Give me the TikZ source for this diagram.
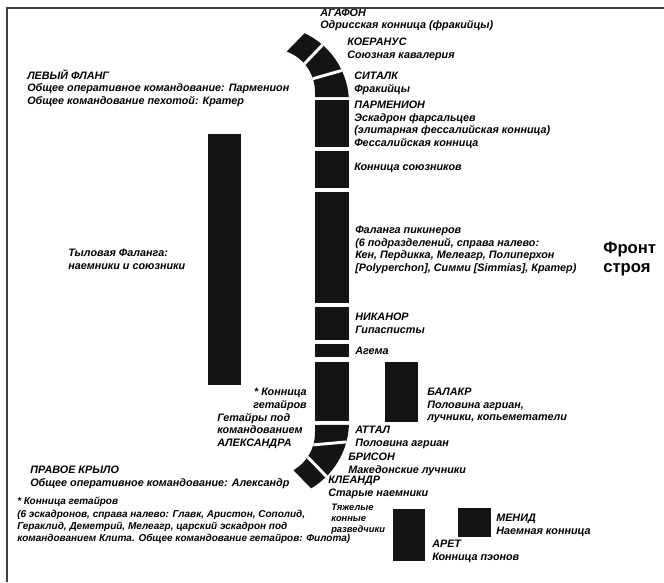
\documentclass[tikz,border=0pt]{standalone}
\usepackage{fontspec}
\newfontfamily\lblfont{Liberation Sans}
\usetikzlibrary{calc}

\begin{document}
\begin{tikzpicture}[x=0.75pt,y=-0.75pt,
  lbl/.style={anchor=north west,inner sep=0pt,align=left,
    font=\lblfont\bfseries\itshape\fontsize{8.1}{9.4}\selectfont},
  unit/.style={fill=black!92},
  gap/.style={white,line width=2.2pt}]
  \useasboundingbox (0,0) rectangle (664,582);
  % ===== upper bend (left flank cavalry) =====
  \coordinate (ti) at (272,92);
  \coordinate (to) at (272,103);
  \fill[unit] (315,97) -- (315,92) arc[start angle=0,end angle=-70,radius=43]
    -- ($(to)+(-65:77)$) arc[start angle=-65,end angle=-3.7,radius=77] -- (349,97) -- cycle;
  \draw[gap] ($(ti)+(-18:43)$) -- ($(to)+(-25:77)$);
  \draw[gap] ($(ti)+(-41:43)$) -- ($(to)+(-49:77)$);
  % ===== straight line of battle =====
  \fill[unit] (315,99.5) rectangle (349,147);
  \fill[unit] (315,150.5) rectangle (349,188);
  \fill[unit] (315,192) rectangle (349,303);
  \fill[unit] (315,307) rectangle (349,340);
  \fill[unit] (315,344) rectangle (349,357);
  \fill[unit] (315,362) rectangle (349,421);
  % ===== lower bend (right wing) =====
  \coordinate (bi) at (272,433);
  \coordinate (bo) at (272,422);
  \fill[unit] (315,425) -- (315,433) arc[start angle=0,end angle=60,radius=43]
    -- ($(bo)+(59.5:77)$) arc[start angle=59.5,end angle=2.2,radius=77] -- cycle;
  \draw[gap] ($(bi)+(16:43)$) -- ($(bo)+(15:77)$);
  \draw[gap] ($(bi)+(34:43)$) -- ($(bo)+(45:77)$);
  % ===== second line and detached units =====
  \fill[unit] (208,134) rectangle (241,385);
  \fill[unit] (385,362) rectangle (418,422);
  \fill[unit] (393,509) rectangle (425,561);
  \fill[unit] (458,508) rectangle (491,537);
  % ===== labels =====
  \node[lbl] (agafon) at (320,8.5) {АГАФОН\\Одрисская конница (фракийцы)};
  \node[lbl] (koeranus) at (347,38) {КОЕРАНУС\\Союзная кавалерия};
  \node[lbl] (sitalk) at (354,72) {СИТАЛК\\Фракийцы};
  \node[lbl] (parmenion) at (354,101) {ПАРМЕНИОН\\Эскадрон фарсальцев\\(элитарная фессалийская конница)\\Фессалийская конница};
  \node[lbl] (allies) at (354,163) {Конница союзников};
  \node[lbl] (phalanx) at (355,226) {Фаланга пикинеров\\(6 подразделений, справа налево:\\Кен, Пердикка, Мелеагр, Полиперхон\\{[}Polyperchon], Симми [Simmias], Кратер)};
  \node[anchor=north west,inner sep=0pt,align=left,
    font=\lblfont\bfseries\fontsize{12.5}{14.3}\selectfont] (front) at (603,242) {Фронт\\строя};
  \node[lbl] (nikanor) at (355,313) {НИКАНОР\\Гипасписты};
  \node[lbl] (agema) at (355,347) {Агема};
  \node[lbl] (balakr) at (427,388) {БАЛАКР\\Половина агриан,\\лучники, копьеметатели};
  \node[lbl,anchor=north east,align=right] (star) at (307,388) {* Конница\\гетайров};
  \node[lbl] (getairs) at (217,413) {Гетайры под\\командованием\\АЛЕКСАНДРА};
  \node[lbl] (attal) at (355,426) {АТТАЛ\\Половина агриан};
  \node[lbl] (brison) at (348,453) {БРИСОН\\Македонские лучники};
  \node[lbl] (kleandr) at (328,476) {КЛЕАНДР\\Старые наемники};
  \node[lbl] (rightwing) at (30,466) {ПРАВОЕ КРЫЛО\\Общее оперативное командование: Александр};
  \node[lbl,font=\lblfont\bfseries\itshape\fontsize{7.5}{9.2}\selectfont] (note) at (17,497) {* Конница гетайров\\(6 эскадронов, справа налево: Главк, Аристон, Сополид,\\Гераклид, Деметрий, Мелеагр, царский эскадрон под\\командованием Клита. Общее командование гетайров: Филота)};
  \node[lbl,font=\lblfont\bfseries\itshape\fontsize{7}{8}\selectfont] (scouts) at (331,504) {Тяжелые\\конные\\разведчики};
  \node[lbl] (aret) at (432,540) {АРЕТ\\Конница пэонов};
  \node[lbl] (menid) at (496,514) {МЕНИД\\Наемная конница};
  \node[lbl] (leftflank) at (27,69) {ЛЕВЫЙ ФЛАНГ\\Общее оперативное командование: Парменион\\Общее командование пехотой: Кратер};
  \node[lbl] (rear) at (68,249) {Тыловая Фаланга:\\наемники и союзники};
  % ===== frame =====
  \draw[black!75,line width=1.4pt] (7,582) -- (7,8) -- (664,8);
\end{tikzpicture}
\end{document}
